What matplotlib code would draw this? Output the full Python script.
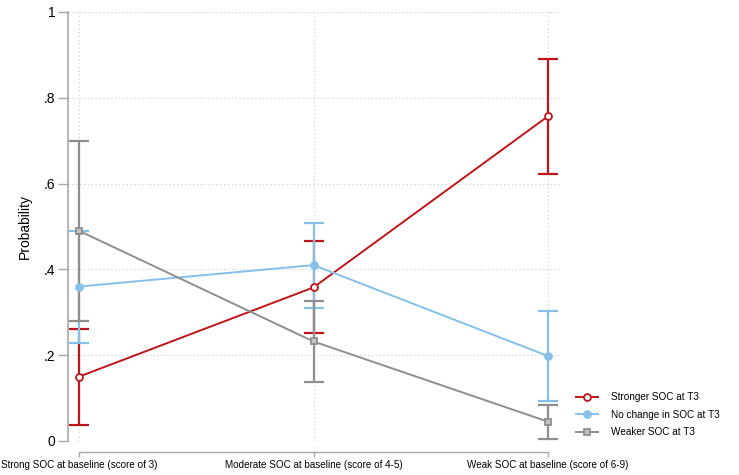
import matplotlib
matplotlib.use("Agg")
import matplotlib.pyplot as plt

plt.rcParams['font.family'] = ['Liberation Sans', 'DejaVu Sans']

categories = ["Strong SOC at baseline (score of 3)",
              "Moderate SOC at baseline (score of 4-5)",
              "Weak SOC at baseline (score of 6-9)"]
x_pos = [1, 2, 3]

stronger = [0.150, 0.358, 0.757]
stronger_lo = [0.038, 0.251, 0.623]
stronger_hi = [0.262, 0.466, 0.891]

nochange = [0.360, 0.410, 0.198]
nochange_lo = [0.228, 0.310, 0.094]
nochange_hi = [0.490, 0.509, 0.302]

weaker = [0.490, 0.232, 0.045]
weaker_lo = [0.280, 0.137, 0.005]
weaker_hi = [0.700, 0.327, 0.085]

series_names = ["Stronger SOC at T3", "No change in SOC at T3", "Weaker SOC at T3"]
ytick_vals = [0, .2, .4, .6, .8, 1]
ytick_labels = ["0", ".2", ".4", ".6", ".8", "1"]

W, H = 739, 475
fig = plt.figure(figsize=(W / 100, H / 100), dpi=100)
ax = fig.add_axes([68 / W, 34 / H, (560 - 68) / W, 429 / H])

red = '#c0141c'
blue = '#84c0e7'
gray = '#8e8e8e'

styles = [
    (stronger, stronger_lo, stronger_hi, red, 'o', 'white'),
    (nochange, nochange_lo, nochange_hi, blue, 'o', blue),
    (weaker, weaker_lo, weaker_hi, gray, 's', '#c4c4c4'),
]

handles = []
# confidence intervals first, then the lines with markers on top
for i, (vals, lo, hi, col, mk, fc) in enumerate(styles):
    err = [[v - l for v, l in zip(vals, lo)], [h - v for v, h in zip(vals, hi)]]
    ax.errorbar(x_pos, vals, yerr=err, fmt='none', ecolor=col, elinewidth=1.6,
                capsize=7, capthick=1.6, zorder=2 + i)
for i, (vals, lo, hi, col, mk, fc) in enumerate(styles):
    h, = ax.plot(x_pos, vals, color=col, lw=1.4, marker=mk, markersize=5,
                 markerfacecolor=fc, markeredgecolor=col, markeredgewidth=1.3,
                 zorder=6 + i, label=series_names[i])
    handles.append(h)

ax.set_xlim(1 - 11 / 234.5, 3 + 12 / 234.5)
ax.set_ylim(0, 1)
ax.set_xticks(x_pos)
ax.set_xticklabels(categories)
ax.set_yticks(ytick_vals)
ax.set_yticklabels(ytick_labels)

ax.grid(True, linestyle=(0, (1, 2.5)), color='#c8c8c8', linewidth=0.8)
ax.set_axisbelow(True)

for s in ['top', 'right']:
    ax.spines[s].set_visible(False)
ax.spines['left'].set_bounds(0, 1)
ax.spines['left'].set_color('#a8a8a8')
ax.spines['left'].set_linewidth(1.2)
ax.spines['bottom'].set_position(('outward', 8))
ax.spines['bottom'].set_bounds(1, 3)
ax.spines['bottom'].set_color('#a8a8a8')
ax.spines['bottom'].set_linewidth(1.0)

ax.tick_params(axis='y', direction='out', length=7, width=1.0, color='#a8a8a8',
               pad=2, labelsize=10)
ax.tick_params(axis='x', direction='out', length=3.5, width=1.0, color='#a8a8a8',
               pad=2.5, labelsize=7.1)

ax.set_ylabel("Probability", fontsize=10)
ax.yaxis.set_label_coords((32 - 68) / 492, 0.5)

fig.legend(handles=handles, loc='upper left', bbox_to_anchor=(576 / W, 1 - 392 / H),
           frameon=False, fontsize=7.2, handlelength=2.2, handletextpad=1.3,
           labelspacing=0.75, borderaxespad=0, borderpad=0)

fig.savefig("out.png", dpi=100)
